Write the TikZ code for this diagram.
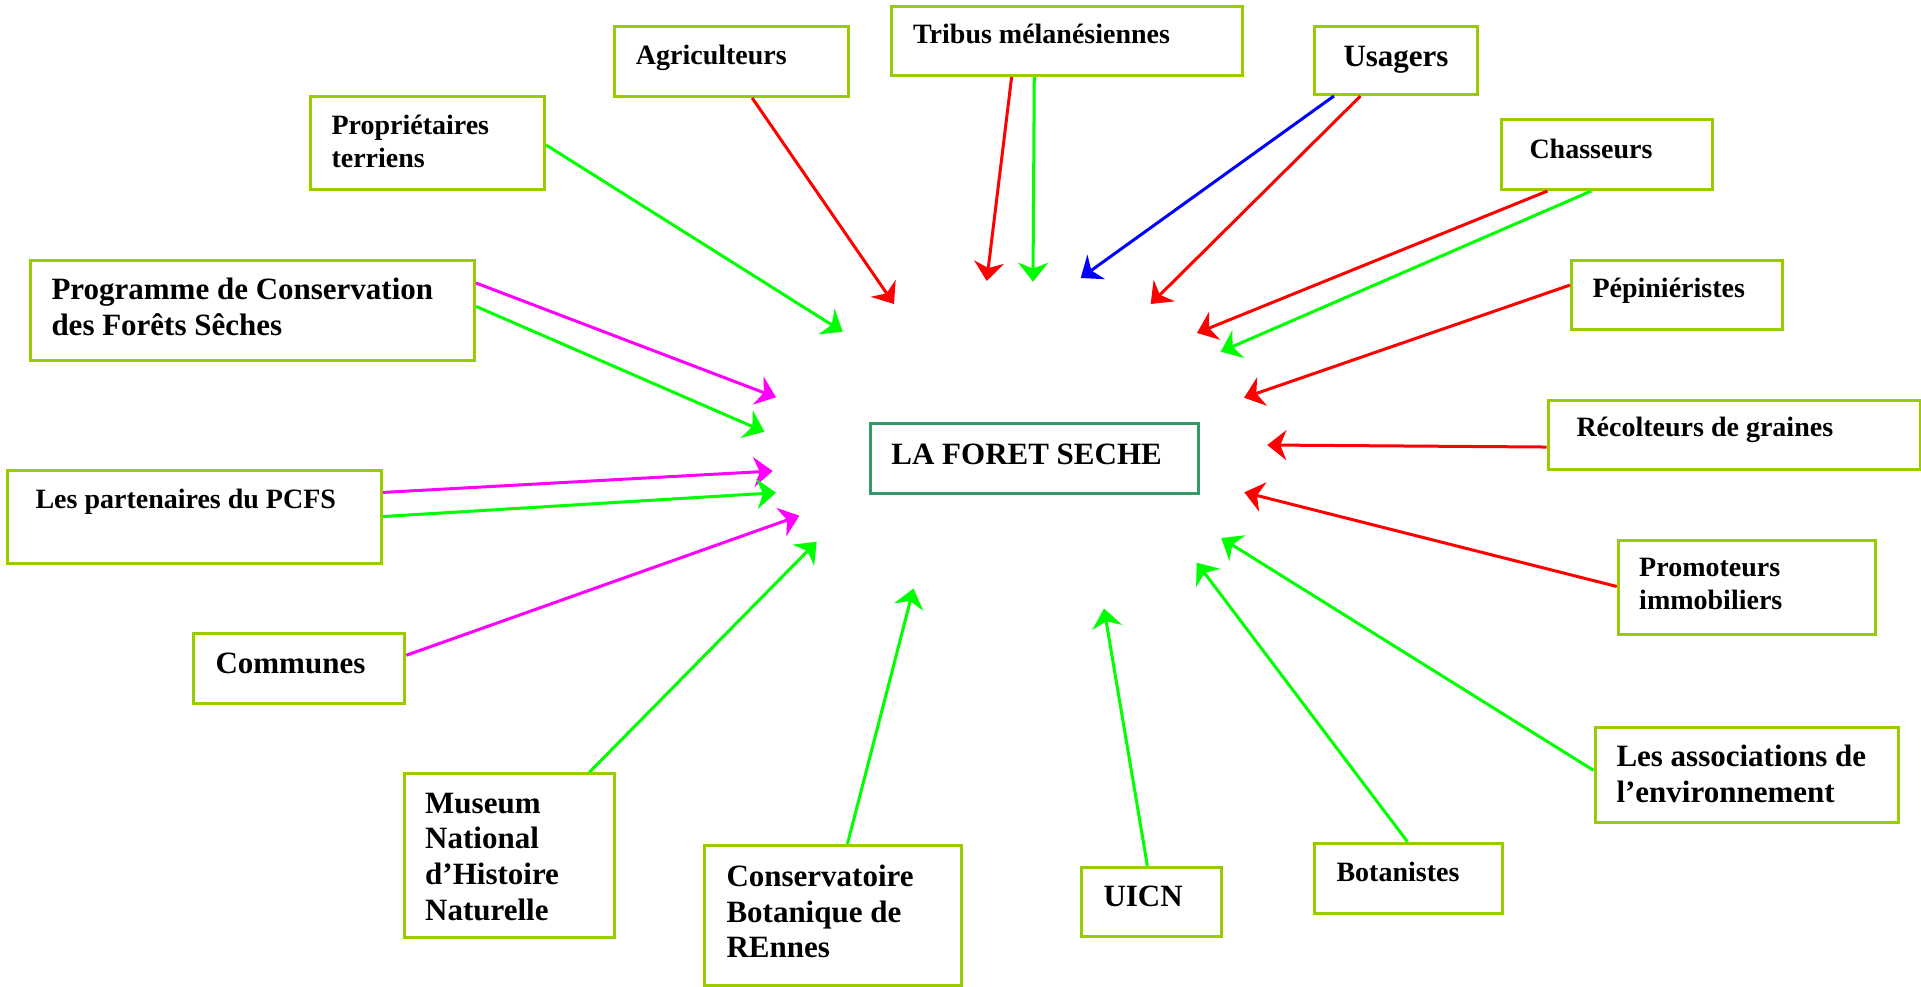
\documentclass[tikz,border=0pt]{standalone}
\usepackage{fontspec}
\setmainfont{Liberation Serif}
\usetikzlibrary{arrows.meta,calc}
\definecolor{boxg}{HTML}{99CC00}
\definecolor{seag}{HTML}{339966}
\definecolor{lnred}{HTML}{FF0000}
\definecolor{lngreen}{HTML}{00FF00}
\definecolor{lnblue}{HTML}{0000FF}
\definecolor{lnmag}{HTML}{FF00FF}
\newlength\pxu
\setlength\pxu{0.5pt}
\newcommand\smallf{\fontsize{14pt}{16.3pt}\selectfont\bfseries}
\newcommand\bigf{\fontsize{15.5pt}{17.8pt}\selectfont\bfseries}
% width, height, dx, dy, text  (pixel units)
\newcommand\bt[5]{\begin{minipage}[t][#2\pxu][t]{#1\pxu}\leftskip=#3\pxu\rightskip=-200pt plus 1fil\rule{0pt}{#4\pxu}#5\end{minipage}}
\tikzset{
  ent/.style={draw=boxg, line width=1.5pt, inner sep=0pt, anchor=north west},
  centre/.style={draw=seag, line width=1.4pt, inner sep=0pt, anchor=north west},
  arr/.style={line width=1.5pt, -{Stealth[length=9.5pt,width=15pt,inset=3pt]}},
  rd/.style={arr, draw=lnred},
  gr/.style={arr, draw=lngreen},
  bl/.style={arr, draw=lnblue},
  mg/.style={arr, draw=lnmag},
}
\begin{document}
\begin{tikzpicture}[x=0.5pt,y=-0.5pt]
\useasboundingbox[fill=white] (0,0) rectangle (1921,986);

% boxes
\node[ent] (agri) at (612.6,25) {\bt{234.4}{70}{21.8}{38}{\smallf Agriculteurs}};
\node[ent] (trib) at (890,5) {\bt{350.6}{69}{21.6}{37}{\smallf Tribus mélanésiennes}};
\node[ent] (usag) at (1313,25) {\bt{163}{68}{29}{40}{\bigf Usagers}};
\node[ent] (prop) at (309,95) {\bt{234}{93}{21}{38}{\smallf Propriétaires\\terriens}};
\node[ent] (chas) at (1500,118) {\bt{210.7}{70}{28}{39}{\smallf Chasseurs}};
\node[ent] (prog) at (29,259) {\bt{444}{100}{21}{39}{\bigf Programme de Conservation\\des Forêts Sêches}};
\node[ent] (pepi) at (1570,259) {\bt{210.7}{69}{21}{37}{\smallf Pépiniéristes}};
\node[ent] (reco) at (1546.7,399) {\bt{371.8}{69}{28.3}{36}{\smallf Récolteurs de graines}};
\node[centre] (foret) at (869,421.7) {\bt{327.7}{70}{21}{41}{\bigf LA FORET SECHE}};
\node[ent] (part) at (5.7,469) {\bt{374.3}{93}{28.3}{38}{\smallf Les partenaires du PCFS}};
\node[ent] (prom) at (1616.7,539) {\bt{257.3}{94}{21}{36}{\smallf Promoteurs\\immobiliers}};
\node[ent] (comm) at (192,632.3) {\bt{211.3}{69.4}{22}{39.7}{\bigf Communes}};
\node[ent] (muse) at (402.7,772.3) {\bt{210.3}{163.4}{21}{39.4}{\bigf Museum\\National\\d’Histoire\\Naturelle}};
\node[ent] (cons) at (703,844) {\bt{256.7}{140}{22}{41}{\bigf Conservatoire\\Botanique de\\REnnes}};
\node[ent] (uicn) at (1080,865.7) {\bt{140}{69.3}{22}{39.3}{\bigf UICN}};
\node[ent] (bota) at (1313,841.7) {\bt{187.8}{70}{22}{38.3}{\smallf Botanistes}};
\node[ent] (asso) at (1593.5,725.7) {\bt{303.5}{95.3}{21.5}{39.3}{\bigf Les associations de\\l’environnement}};

% arrow tips (free ends)
\coordinate (tprop) at (842.7,331.7);
\coordinate (tagri) at (894,304);
\coordinate (ttribr) at (986.7,281);
\coordinate (ttribg) at (1033,281.7);
\coordinate (tusagb) at (1080.7,278);
\coordinate (tusagr) at (1150.7,304);
\coordinate (tchasr) at (1197,333);
\coordinate (tchasg) at (1220.7,351.7);
\coordinate (tpepi) at (1244,397.7);
\coordinate (treco) at (1267.3,445);
\coordinate (tprom) at (1244.3,492.3);
\coordinate (tasso) at (1221.2,538);
\coordinate (tbota) at (1196.7,562.7);
\coordinate (tuicn) at (1104,608.5);
\coordinate (tcons) at (913.5,588.5);
\coordinate (tmuse) at (816.7,541.7);
\coordinate (tcomm) at (799.3,515.7);
\coordinate (tpartm) at (772.7,471);
\coordinate (tpartg) at (776,492.7);
\coordinate (tprogm) at (776,397.3);
\coordinate (tprogg) at (764.3,431.7);

% connectors
\draw[gr] ($(prop.north east)!0.52!(prop.south east)$) -- (tprop);
\draw[rd] ($(agri.south west)!0.588!(agri.south east)$) -- (tagri);
\draw[rd] ($(trib.south west)!0.344!(trib.south east)$) -- (ttribr);
\draw[gr] ($(trib.south west)!0.408!(trib.south east)$) -- (ttribg);
\draw[bl] ($(usag.south west)!0.126!(usag.south east)$) -- (tusagb);
\draw[rd] ($(usag.south west)!0.286!(usag.south east)$) -- (tusagr);
\draw[rd] ($(chas.south west)!0.222!(chas.south east)$) -- (tchasr);
\draw[gr] ($(chas.south west)!0.427!(chas.south east)$) -- (tchasg);
\draw[rd] ($(pepi.north west)!0.362!(pepi.south west)$) -- (tpepi);
\draw[rd] ($(reco.north west)!0.667!(reco.south west)$) -- (treco);
\draw[rd] ($(prom.north west)!0.489!(prom.south west)$) -- (tprom);
\draw[gr] ($(asso.north west)!0.454!(asso.south west)$) -- (tasso);
\draw[gr] ($(bota.north west)!0.495!(bota.north east)$) -- (tbota);
\draw[gr] ($(uicn.north west)!0.471!(uicn.north east)$) -- (tuicn);
\draw[gr] ($(cons.north west)!0.556!(cons.north east)$) -- (tcons);
\draw[gr] ($(muse.north west)!0.875!(muse.north east)$) -- (tmuse);
\draw[mg] ($(comm.north east)!0.317!(comm.south east)$) -- (tcomm);
\draw[mg] ($(part.north east)!0.244!(part.south east)$) -- (tpartm);
\draw[gr] ($(part.north east)!0.495!(part.south east)$) -- (tpartg);
\draw[mg] ($(prog.north east)!0.233!(prog.south east)$) -- (tprogm);
\draw[gr] ($(prog.north east)!0.46!(prog.south east)$) -- (tprogg);
\end{tikzpicture}
\end{document}
